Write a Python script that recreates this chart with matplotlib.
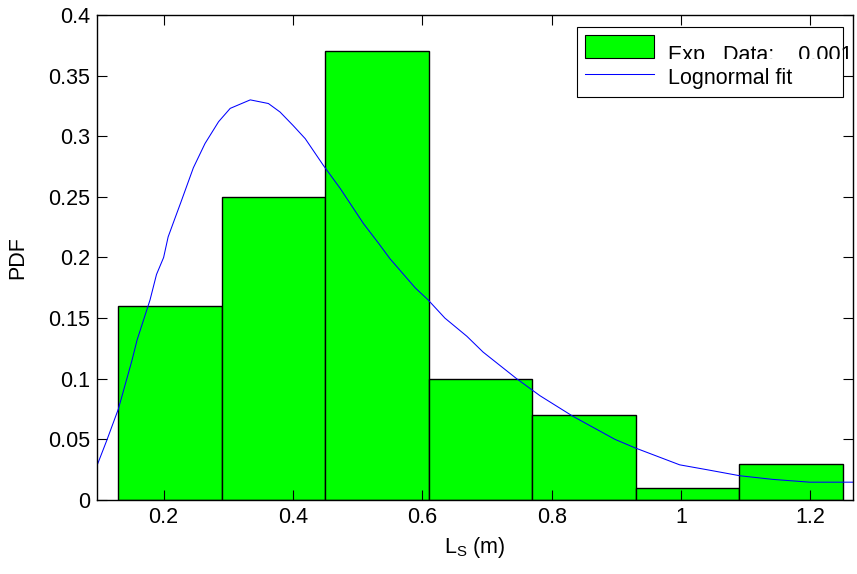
import matplotlib
matplotlib.use("Agg")
import matplotlib.pyplot as plt
from matplotlib.patches import Patch
from matplotlib.lines import Line2D
from matplotlib.transforms import Bbox
import numpy as np

plt.rcParams['font.family'] = ['Liberation Sans', 'DejaVu Sans']
plt.rcParams['mathtext.default'] = 'regular'

# histogram of measured L_S (bin edges and PDF heights)
bin_edges = [0.13, 0.29, 0.45, 0.61, 0.77, 0.93, 1.09, 1.25]
pdf_vals = [0.16, 0.25, 0.37, 0.10, 0.07, 0.01, 0.03]

# lognormal fit curve
fit_x = [0.096, 0.112, 0.130, 0.151, 0.159, 0.179, 0.189, 0.200, 0.207, 0.218,
         0.227, 0.246, 0.264, 0.285, 0.303, 0.334, 0.362, 0.380, 0.400, 0.419,
         0.447, 0.473, 0.509, 0.532, 0.550, 0.589, 0.609, 0.635, 0.669, 0.694,
         0.720, 0.746, 0.782, 0.833, 0.898, 0.929, 0.998, 1.040, 1.091, 1.142,
         1.199, 1.266]
fit_y = [0.027, 0.049, 0.075, 0.115, 0.132, 0.165, 0.186, 0.200, 0.217, 0.233,
         0.246, 0.274, 0.294, 0.312, 0.323, 0.330, 0.327, 0.320, 0.309, 0.298,
         0.276, 0.257, 0.228, 0.212, 0.199, 0.175, 0.165, 0.150, 0.135, 0.122,
         0.111, 0.100, 0.086, 0.069, 0.050, 0.043, 0.029, 0.025, 0.020, 0.017,
         0.0147, 0.0147]

xticks = [0.2, 0.4, 0.6, 0.8, 1.0, 1.2]
xtick_labels = ['0.2', '0.4', '0.6', '0.8', '1', '1.2']
yticks = [0, 0.05, 0.1, 0.15, 0.2, 0.25, 0.3, 0.35, 0.4]
ytick_labels = ['0', '0.05', '0.1', '0.15', '0.2', '0.25', '0.3', '0.35', '0.4']

fs = 15.5

fig = plt.figure(figsize=(8.57, 5.74), dpi=100)
ax = fig.add_axes([97/857, 1 - 500/574, 756/857, 485/574])

edges = np.array(bin_edges)
ax.bar(edges[:-1], pdf_vals, width=np.diff(edges), align='edge',
       color='#00ff00', edgecolor='black', linewidth=1.0)
ax.plot(fit_x, fit_y, color='#0000ff', linewidth=0.75)

ax.set_xlim(0.097, 1.266)
ax.set_ylim(0, 0.4)
ax.set_xticks(xticks)
ax.set_xticklabels(xtick_labels)
ax.set_yticks(yticks)
ax.set_yticklabels(ytick_labels)
ax.tick_params(direction='in', length=7, width=0.8, top=True, right=True,
               labelsize=fs, pad=5)
for s in ax.spines.values():
    s.set_linewidth(1.0)

ax.set_xlabel(r'L$_S$ (m)', fontsize=fs, labelpad=5)
ax.set_ylabel('PDF', fontsize=fs, labelpad=14)

handles = [Patch(facecolor='#00ff00', edgecolor='black', linewidth=0.8),
           Line2D([0], [0], color='#0000ff', linewidth=0.75)]
labels = ['Exp   Data:    0.001', 'Lognormal fit']
x0 = (577 - 97) / 756
x1 = (843 - 97) / 756
ytop = (500 - 27) / 485
leg = ax.legend(handles, labels, loc='upper left', mode='expand',
                bbox_to_anchor=(x0, ytop - 0.2, x1 - x0, 0.2),
                borderaxespad=0, fontsize=fs, handlelength=3.2,
                handleheight=1.25, handletextpad=0.65, labelspacing=0.3,
                borderpad=0.37, fancybox=False, framealpha=1,
                edgecolor='black')
leg.get_frame().set_linewidth(0.8)

# first legend label is cut off in the reference
t0 = leg.get_texts()[0]
t0.set_position((0, -7))
t0.set_clip_on(True)
t0.set_clip_box(Bbox.from_extents(560, 574 - 59, 852, 574))

fig.savefig('out.png', dpi=100)
